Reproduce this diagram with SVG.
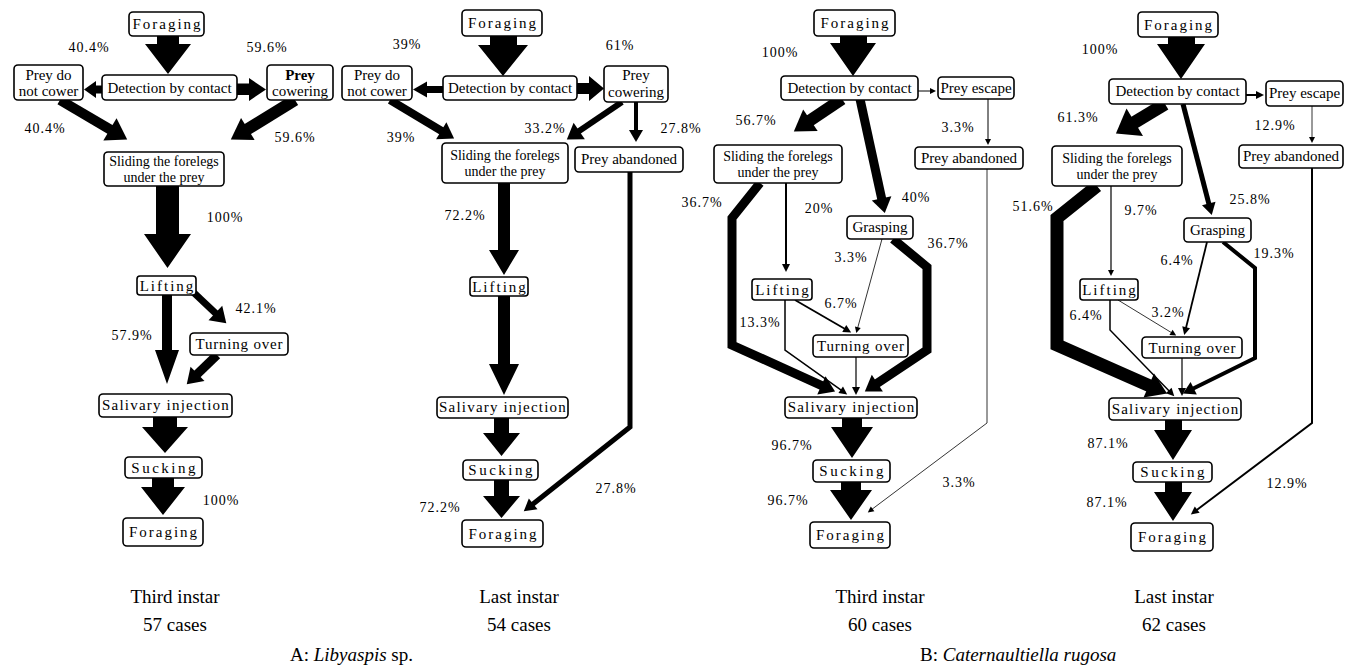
<svg xmlns="http://www.w3.org/2000/svg" width="1353" height="667" viewBox="0 0 1353 667">
<style>
text{font-family:"Liberation Serif","Times New Roman",serif;fill:#000}
.box{fill:#fff;stroke:#000;stroke-width:1.6}
.lb{font-size:15px;text-anchor:middle}
.sl{font-size:14px;text-anchor:middle}
.sp2{letter-spacing:2px}
.sp25{letter-spacing:2.5px}
.sp1{letter-spacing:1.2px}
.sp08{letter-spacing:0.8px}
.pct{font-size:14px;text-anchor:middle;letter-spacing:1px}
.cap{font-size:19px;text-anchor:middle}
.ttl{font-size:19px}
.fat{fill:#000}
.ln{fill:none;stroke:#000;stroke-linejoin:miter}
</style>
<defs>
<marker id="mA" markerUnits="userSpaceOnUse" markerWidth="24" markerHeight="30" refX="1" refY="13" orient="auto" overflow="visible"><path d="M0,0 L20,13 L0,26 z"/></marker>
<marker id="mA2" markerUnits="userSpaceOnUse" markerWidth="24" markerHeight="34" refX="1" refY="16" orient="auto" overflow="visible"><path d="M0,0 L22,16 L0,32 z"/></marker>
<marker id="mB" markerUnits="userSpaceOnUse" markerWidth="18" markerHeight="24" refX="1" refY="10" orient="auto" overflow="visible"><path d="M0,0 L15,10 L0,20 z"/></marker>
<marker id="mC" markerUnits="userSpaceOnUse" markerWidth="14" markerHeight="16" refX="1" refY="7" orient="auto" overflow="visible"><path d="M0,0 L12,7 L0,14 z"/></marker>
<marker id="mD" markerUnits="userSpaceOnUse" markerWidth="10" markerHeight="10" refX="1" refY="4" orient="auto" overflow="visible"><path d="M0,0 L8,4 L0,8 z"/></marker>
<marker id="mE" markerUnits="userSpaceOnUse" markerWidth="8" markerHeight="8" refX="1" refY="3" orient="auto" overflow="visible"><path d="M0,0 L6,3 L0,6 z"/></marker>
</defs>

<g id="connectors">
<!-- A1 -->
<polygon class="fat" points="157,36 179,36 179,44 191,44 168,74 145,44 157,44"/>
<polygon class="fat" points="102,85.5 96,85.5 96,81 84,89.5 96,98 96,93.5 102,93.5"/>
<polygon class="fat" points="237,83.5 249,83.5 249,78 266,89.5 249,101 249,95 237,95"/>
<path class="ln" stroke-width="10" d="M60,100 L110.8,129.9" marker-end="url(#mA)"/>
<path class="ln" stroke-width="12" d="M295,100 L247,129.5" marker-end="url(#mA)"/>
<polygon class="fat" points="156,186 179,186 179,234 191,234 167.5,268 144,234 156,234"/>
<polygon class="fat" points="162,295 172,295 172,350 179,350 167,384 155,350 162,350"/>
<path class="ln" stroke-width="7" d="M192,291 L216.1,313.7" marker-end="url(#mB)"/>
<path class="ln" stroke-width="9" d="M217,355 L196.8,374.6" marker-end="url(#mB)"/>
<polygon class="fat" points="153,417 177,417 177,427 188,427 165,453 142,427 153,427"/>
<polygon class="fat" points="152,478 174,478 174,487 185,487 163,515 141,487 152,487"/>
<!-- A2 -->
<polygon class="fat" points="490,36 517,36 517,45 528,45 503,76 478,45 490,45"/>
<polygon class="fat" points="443,86 427,86 427,81.5 413,89.5 427,97.5 427,93 443,93"/>
<polygon class="fat" points="577,83 589,83 589,76 604,88.5 589,101 589,94 577,94"/>
<path class="ln" stroke-width="8" d="M390,100 L442.1,131.3" marker-end="url(#mB)"/>
<path class="ln" stroke-width="6" d="M622,102 L578.4,131.6" marker-end="url(#mB)"/>
<path class="ln" stroke-width="4" d="M636,102 L636,131" marker-end="url(#mC)"/>
<polygon class="fat" points="498,183 510,183 510,250 519,250 504,275 489,250 498,250"/>
<polygon class="fat" points="498,296 510,296 510,364 519,364 504,395 489,364 498,364"/>
<polygon class="fat" points="494,418 509,418 509,433 520,433 501.5,456 483,433 494,433"/>
<polygon class="fat" points="494,480 509,480 509,496 520,496 501.5,518 483,496 494,496"/>
<path class="ln" stroke-width="5" d="M630,172 L630,427 L532.4,504.5" marker-end="url(#mC)"/>
<!-- B1 -->
<polygon class="fat" points="840,36 867,36 867,43 876,43 853,76 830,43 840,43"/>
<path class="ln" stroke-width="1" d="M918,91 L931,91" marker-end="url(#mE)"/>
<path class="ln" stroke-width="1" d="M988,99 L988,140" marker-end="url(#mE)"/>
<path class="ln" stroke-width="0.8" d="M987,169 L987,423 L871.8,509.4" marker-end="url(#mE)"/>
<path class="ln" stroke-width="12" d="M842,99 L809.6,120.8" marker-end="url(#mA)"/>
<path class="ln" stroke-width="9" d="M860,99 L881.8,199.3" marker-end="url(#mB)"/>
<path class="ln" stroke-width="2" d="M786,183 L786,265" marker-end="url(#mD)"/>
<path class="ln" stroke-width="9" d="M760,183 L732,218 L732,345 L822.3,385.8" marker-end="url(#mB)"/>
<path class="ln" stroke-width="9" d="M893,239 L927,267 L927,350 L876.5,383.7" marker-end="url(#mB)"/>
<path class="ln" stroke-width="0.8" d="M882,239 L857.6,328.2" marker-end="url(#mE)"/>
<path class="ln" stroke-width="1.8" d="M795,300 L845.1,329" marker-end="url(#mD)"/>
<path class="ln" stroke-width="1.5" d="M785,300 L785,350 L841.5,390.4" marker-end="url(#mD)"/>
<path class="ln" stroke-width="1.2" d="M856,357 L856,388" marker-end="url(#mD)"/>
<polygon class="fat" points="842,418 862,418 862,427 873,427 852,458 831,427 842,427"/>
<polygon class="fat" points="841,482 861,482 861,490 872,490 851,520 830,490 841,490"/>
<!-- B2 -->
<polygon class="fat" points="1168,37 1195,37 1195,44 1205,44 1181,79 1157,44 1168,44"/>
<path class="ln" stroke-width="2" d="M1246,95 L1257,95" marker-end="url(#mD)"/>
<path class="ln" stroke-width="0.8" d="M1312,106 L1312,138" marker-end="url(#mE)"/>
<path class="ln" stroke-width="2" d="M1312,168 L1312,423 L1196.4,510.2" marker-end="url(#mD)"/>
<path class="ln" stroke-width="13" d="M1165,104 L1133.9,122.7" marker-end="url(#mA2)"/>
<path class="ln" stroke-width="5" d="M1183,104 L1209,204.4" marker-end="url(#mC)"/>
<path class="ln" stroke-width="1.2" d="M1111,186 L1111,271" marker-end="url(#mE)"/>
<path class="ln" stroke-width="13" d="M1097,186 L1057,218 L1057,345 L1149.7,385.9" marker-end="url(#mA)"/>
<path class="ln" stroke-width="4" d="M1223,242 L1255,268 L1255,358 L1192.8,388.7" marker-end="url(#mC)"/>
<path class="ln" stroke-width="1.8" d="M1207,242 L1185.9,328.2" marker-end="url(#mD)"/>
<path class="ln" stroke-width="0.8" d="M1118,300 L1171.9,332.9" marker-end="url(#mE)"/>
<path class="ln" stroke-width="1.5" d="M1110,300 L1110,330 L1169.4,391.3" marker-end="url(#mD)"/>
<path class="ln" stroke-width="1.2" d="M1182,358 L1182,389" marker-end="url(#mD)"/>
<polygon class="fat" points="1165,420 1182,420 1182,430 1192,430 1173,460 1154,430 1165,430"/>
<polygon class="fat" points="1165,482 1182,482 1182,492 1192,492 1173,521 1154,492 1165,492"/>
</g>

<g id="labels">
<text class="pct" x="89" y="52">40.4%</text>
<text class="pct" x="267" y="52">59.6%</text>
<text class="pct" x="45" y="133">40.4%</text>
<text class="pct" x="295" y="142">59.6%</text>
<text class="pct" x="225" y="222">100%</text>
<text class="pct" x="256" y="313">42.1%</text>
<text class="pct" x="132" y="340">57.9%</text>
<text class="pct" x="221" y="505">100%</text>
<text class="pct" x="407" y="49">39%</text>
<text class="pct" x="620" y="50">61%</text>
<text class="pct" x="401" y="142">39%</text>
<text class="pct" x="545" y="133">33.2%</text>
<text class="pct" x="681" y="133">27.8%</text>
<text class="pct" x="465" y="220">72.2%</text>
<text class="pct" x="440" y="512">72.2%</text>
<text class="pct" x="616" y="493">27.8%</text>
<text class="pct" x="780" y="57">100%</text>
<text class="pct" x="756" y="125">56.7%</text>
<text class="pct" x="958" y="132">3.3%</text>
<text class="pct" x="702" y="207">36.7%</text>
<text class="pct" x="819" y="213">20%</text>
<text class="pct" x="916" y="202">40%</text>
<text class="pct" x="948" y="248">36.7%</text>
<text class="pct" x="851" y="262">3.3%</text>
<text class="pct" x="841" y="308">6.7%</text>
<text class="pct" x="760" y="327">13.3%</text>
<text class="pct" x="792" y="450">96.7%</text>
<text class="pct" x="788" y="505">96.7%</text>
<text class="pct" x="959" y="487">3.3%</text>
<text class="pct" x="1100" y="54">100%</text>
<text class="pct" x="1078" y="122">61.3%</text>
<text class="pct" x="1275" y="130">12.9%</text>
<text class="pct" x="1033" y="211">51.6%</text>
<text class="pct" x="1141" y="215">9.7%</text>
<text class="pct" x="1250" y="204">25.8%</text>
<text class="pct" x="1274" y="258">19.3%</text>
<text class="pct" x="1177" y="265">6.4%</text>
<text class="pct" x="1086" y="320">6.4%</text>
<text class="pct" x="1168" y="317">3.2%</text>
<text class="pct" x="1108" y="448">87.1%</text>
<text class="pct" x="1107" y="507">87.1%</text>
<text class="pct" x="1287" y="488">12.9%</text>
<text class="cap" x="175" y="603">Third instar</text>
<text class="cap" x="175" y="631">57 cases</text>
<text class="cap" x="519" y="603">Last instar</text>
<text class="cap" x="519" y="631">54 cases</text>
<text class="cap" x="880" y="603">Third instar</text>
<text class="cap" x="880" y="631">60 cases</text>
<text class="cap" x="1174" y="603">Last instar</text>
<text class="cap" x="1174" y="631">62 cases</text>
<text class="ttl" x="290" y="661">A: <tspan font-style="italic">Libyaspis</tspan> sp.</text>
<text class="ttl" x="920" y="661">B: <tspan font-style="italic">Caternaultiella rugosa</tspan></text>
</g>

<!-- Panel A1 nodes -->
<g id="A1_forage_top"><rect class="box" x="129" y="12" width="75" height="24" rx="4"/><text class="lb sp2" x="167.5" y="29">Foraging</text></g>
<g id="A1_detect"><rect class="box" x="102" y="75" width="135" height="25" rx="4"/><text class="lb" x="169.5" y="92.5">Detection by contact</text></g>
<g id="A1_nocower"><rect class="box" x="14" y="65" width="69" height="35" rx="4"/><text class="lb" x="48.5" y="80">Prey do</text><text class="lb" x="48.5" y="96">not cower</text></g>
<g id="A1_cower"><rect class="box" x="267" y="65" width="66" height="35" rx="4"/><text class="lb" x="300" y="80" font-weight="bold" font-size="16">Prey</text><text class="lb" x="300" y="96">cowering</text></g>
<g id="A1_slide"><rect class="box" x="104" y="152" width="120" height="34" rx="4"/><text class="sl" x="164" y="166">Sliding the forelegs</text><text class="sl" x="164" y="181.5">under the prey</text></g>
<g id="A1_lift"><rect class="box" x="137" y="276" width="59" height="19" rx="3"/><text class="lb sp2" x="167.5" y="290.5">Lifting</text></g>
<g id="A1_turn"><rect class="box" x="190" y="333" width="98" height="22" rx="4"/><text class="lb sp08" x="239.4" y="349">Turning over</text></g>
<g id="A1_saliv"><rect class="box" x="99" y="394" width="133" height="23" rx="4"/><text class="lb sp1" x="166" y="410">Salivary injection</text></g>
<g id="A1_suck"><rect class="box" x="125" y="457" width="77" height="21" rx="4"/><text class="lb sp25" x="164.7" y="472.5">Sucking</text></g>
<g id="A1_forage_bot"><rect class="box" x="123" y="518" width="80" height="28" rx="4"/><text class="lb sp2" x="164" y="537">Foraging</text></g>

<!-- Panel A2 nodes -->
<g id="A2_forage_top"><rect class="box" x="462" y="10" width="80" height="26" rx="4"/><text class="lb sp2" x="503" y="28">Foraging</text></g>
<g id="A2_detect"><rect class="box" x="443" y="76" width="134" height="24" rx="4"/><text class="lb" x="510" y="93">Detection by contact</text></g>
<g id="A2_nocower"><rect class="box" x="342" y="66" width="70" height="34" rx="4"/><text class="lb" x="377" y="80">Prey do</text><text class="lb" x="377" y="96">not cower</text></g>
<g id="A2_cower"><rect class="box" x="604" y="66" width="64" height="36" rx="4"/><text class="lb" x="636" y="80">Prey</text><text class="lb" x="636" y="97">cowering</text></g>
<g id="A2_slide"><rect class="box" x="442" y="143" width="126" height="40" rx="4"/><text class="sl" x="505" y="160">Sliding the forelegs</text><text class="sl" x="505" y="176">under the prey</text></g>
<g id="A2_abandon"><rect class="box" x="575" y="147" width="108" height="25" rx="4"/><text class="lb" x="629" y="164">Prey abandoned</text></g>
<g id="A2_lift"><rect class="box" x="470" y="277" width="58" height="19" rx="3"/><text class="lb sp2" x="500" y="291.5">Lifting</text></g>
<g id="A2_saliv"><rect class="box" x="437" y="397" width="131" height="21" rx="4"/><text class="lb sp1" x="503" y="412">Salivary injection</text></g>
<g id="A2_suck"><rect class="box" x="463" y="460" width="75" height="20" rx="4"/><text class="lb sp25" x="501.7" y="475">Sucking</text></g>
<g id="A2_forage_bot"><rect class="box" x="462" y="520" width="81" height="27" rx="4"/><text class="lb sp2" x="503.5" y="538.5">Foraging</text></g>

<!-- Panel B1 nodes -->
<g id="B1_forage_top"><rect class="box" x="814" y="10" width="81" height="26" rx="4"/><text class="lb sp2" x="855.5" y="28">Foraging</text></g>
<g id="B1_detect"><rect class="box" x="781" y="76" width="137" height="24" rx="4"/><text class="lb" x="849.5" y="93">Detection by contact</text></g>
<g id="B1_escape"><rect class="box" x="938" y="77" width="76" height="22" rx="4"/><text class="lb" x="976" y="93">Prey escape</text></g>
<g id="B1_abandon"><rect class="box" x="915" y="147" width="108" height="22" rx="4"/><text class="lb" x="969" y="163">Prey abandoned</text></g>
<g id="B1_slide"><rect class="box" x="714" y="145" width="128" height="38" rx="4"/><text class="sl" x="778" y="161">Sliding the forelegs</text><text class="sl" x="778" y="177">under the prey</text></g>
<g id="B1_grasp"><rect class="box" x="847" y="216" width="66" height="23" rx="4"/><text class="lb" x="880" y="232">Grasping</text></g>
<g id="B1_lift"><rect class="box" x="752" y="279" width="60" height="21" rx="3"/><text class="lb sp2" x="783" y="294.5">Lifting</text></g>
<g id="B1_turn"><rect class="box" x="813" y="335" width="95" height="22" rx="4"/><text class="lb sp08" x="860.9" y="351">Turning over</text></g>
<g id="B1_saliv"><rect class="box" x="785" y="397" width="132" height="21" rx="4"/><text class="lb sp1" x="851.6" y="412">Salivary injection</text></g>
<g id="B1_suck"><rect class="box" x="813" y="460" width="77" height="22" rx="4"/><text class="lb sp25" x="852.7" y="476">Sucking</text></g>
<g id="B1_forage_bot"><rect class="box" x="810" y="522" width="80" height="26" rx="4"/><text class="lb sp2" x="851" y="540">Foraging</text></g>

<!-- Panel B2 nodes -->
<g id="B2_forage_top"><rect class="box" x="1138" y="12" width="80" height="25" rx="4"/><text class="lb sp2" x="1179" y="30">Foraging</text></g>
<g id="B2_detect"><rect class="box" x="1109" y="79" width="137" height="25" rx="4"/><text class="lb" x="1177.5" y="96">Detection by contact</text></g>
<g id="B2_escape"><rect class="box" x="1266" y="81" width="77" height="25" rx="4"/><text class="lb" x="1304.5" y="98">Prey escape</text></g>
<g id="B2_abandon"><rect class="box" x="1239" y="145" width="104" height="23" rx="4"/><text class="lb" x="1291" y="161">Prey abandoned</text></g>
<g id="B2_slide"><rect class="box" x="1052" y="146" width="130" height="40" rx="4"/><text class="sl" x="1117" y="163">Sliding the forelegs</text><text class="sl" x="1117" y="179">under the prey</text></g>
<g id="B2_grasp"><rect class="box" x="1184" y="218" width="67" height="24" rx="4"/><text class="lb" x="1217.5" y="235">Grasping</text></g>
<g id="B2_lift"><rect class="box" x="1080" y="279" width="58" height="21" rx="3"/><text class="lb sp2" x="1110" y="294.5">Lifting</text></g>
<g id="B2_turn"><rect class="box" x="1142" y="337" width="100" height="21" rx="4"/><text class="lb sp08" x="1192.4" y="352.5">Turning over</text></g>
<g id="B2_saliv"><rect class="box" x="1109" y="398" width="132" height="22" rx="4"/><text class="lb sp1" x="1175.6" y="414">Salivary injection</text></g>
<g id="B2_suck"><rect class="box" x="1133" y="462" width="79" height="20" rx="4"/><text class="lb sp25" x="1173.7" y="477">Sucking</text></g>
<g id="B2_forage_bot"><rect class="box" x="1131" y="523" width="82" height="28" rx="4"/><text class="lb sp2" x="1173" y="542">Foraging</text></g>
</svg>
